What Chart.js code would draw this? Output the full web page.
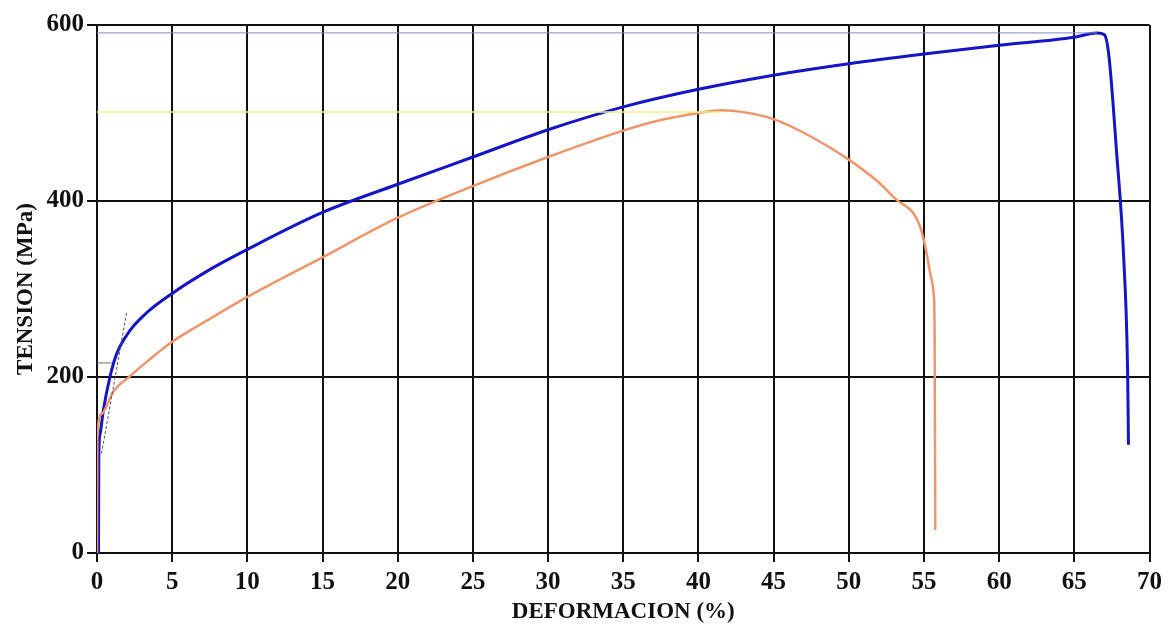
<!DOCTYPE html>
<html>
<head>
<meta charset="utf-8">
<script src="https://cdn.jsdelivr.net/npm/chart.js@4/dist/chart.umd.min.js"></script>
<style>
    html, body { margin: 0; padding: 0; background: #ffffff; }
    #wrap { width: 1168px; height: 627px; }
</style>
</head>
<body>
<div id="wrap"><canvas id="tensionChart" width="1168" height="627"></canvas></div>
<script>
// ========================================
// Data
// ========================================

const xTicks = [0, 5, 10, 15, 20, 25, 30, 35, 40, 45, 50, 55, 60, 65, 70];
const yTicks = [0, 200, 400, 600];

// blue curve
const blueStrain = [0.1, 0.12, 0.2, 0.42, 0.86, 1.3, 2.2, 3.3, 5, 7.5, 10, 15, 20, 25, 30, 35, 40, 45, 50, 55, 60, 65, 66.5, 67.0, 67.3, 67.8, 68.3, 68.55, 68.6];
const blueStress = [0, 109, 135, 162, 200, 226, 253, 273, 295, 322, 345, 387, 419, 450, 481, 507, 527, 543, 556, 567, 577, 586, 591, 589, 565, 458, 330, 200, 123];

// orange curve
const orangeStrain = [0.0, 0.02, 0.3, 1.07, 2.2, 3.5, 5, 7.5, 10, 15, 20, 25, 30, 35, 37.5, 40, 41.5, 43, 45, 47.5, 50, 52, 53.2, 54.3, 54.8, 55.15, 55.45, 55.65, 55.71, 55.75];
const orangeStress = [0, 132, 158, 183, 201, 220, 240, 266, 291, 336, 381, 417, 450, 480, 492, 500, 503, 501, 493, 473, 447, 421, 401, 386, 368, 343, 315, 294, 250, 26];

// helper lines
const maxBlueX = [0, 66.5];
const maxBlueY = [591, 591];
const maxOrangeX = [0, 41.5];
const maxOrangeY = [501, 501];
const yieldMarkX = [0, 0.97];
const yieldMarkY = [216, 216];
const offsetX = [0.3, 1.97];
const offsetY = [113, 273];

const toPoints = (xs, ys) => xs.map((x, i) => ({ x: x, y: ys[i] }));

// ========================================
// Chart
// ========================================

const serif = '"Liberation Serif", "Times New Roman", serif';

const ctx = document.getElementById('tensionChart');

new Chart(ctx.getContext('2d'), {
    type: 'line',
    data: {
        datasets: [
            {
                data: toPoints(maxBlueX, maxBlueY),
                borderColor: '#8088c0',
                borderWidth: 1,
                pointRadius: 0
            },
            {
                data: toPoints(maxOrangeX, maxOrangeY),
                borderColor: '#eeee80',
                borderWidth: 1.5,
                pointRadius: 0
            },
            {
                data: toPoints(yieldMarkX, yieldMarkY),
                borderColor: '#707070',
                borderWidth: 1,
                pointRadius: 0
            },
            {
                data: toPoints(offsetX, offsetY),
                borderColor: '#505070',
                borderWidth: 1,
                borderDash: [3, 2],
                pointRadius: 0
            },
            {
                data: toPoints(orangeStrain, orangeStress),
                borderColor: '#f0956a',
                borderWidth: 2.5,
                pointRadius: 0,
                cubicInterpolationMode: 'monotone'
            },
            {
                data: toPoints(blueStrain, blueStress),
                borderColor: '#1414c8',
                borderWidth: 3,
                pointRadius: 0,
                cubicInterpolationMode: 'monotone'
            }
        ]
    },
    options: {
        responsive: false,
        animation: false,
        layout: { padding: { left: 0, right: 18, top: 25, bottom: 0 } },
        plugins: { legend: { display: false }, tooltip: { enabled: false } },
        scales: {
            x: {
                type: 'linear',
                min: 0,
                max: 70,
                afterFit: s => { s.height = 74; },
                afterBuildTicks: s => { s.ticks = xTicks.map(v => ({ value: v })); },
                grid: { color: '#111111', lineWidth: 2, tickLength: 9 },
                border: { color: '#111111', width: 2 },
                ticks: { color: '#111111', padding: 6, font: { family: serif, size: 25, weight: 'bold' } },
                title: {
                    display: true,
                    text: 'DEFORMACION (%)',
                    color: '#111111',
                    padding: { top: 0, bottom: 1 },
                    font: { family: serif, size: 23, weight: 'bold' }
                }
            },
            y: {
                type: 'linear',
                min: 0,
                max: 600,
                afterFit: s => { s.width = 97; },
                afterBuildTicks: s => { s.ticks = yTicks.map(v => ({ value: v })); },
                grid: { color: '#111111', lineWidth: 2, tickLength: 10 },
                border: { color: '#111111', width: 2 },
                ticks: { color: '#111111', padding: 3, font: { family: serif, size: 25, weight: 'bold' } },
                title: {
                    display: true,
                    text: 'TENSION (MPa)',
                    color: '#111111',
                    padding: { top: 12, bottom: 0 },
                    font: { family: serif, size: 23, weight: 'bold' }
                }
            }
        }
    }
});
</script>
</body>
</html>
